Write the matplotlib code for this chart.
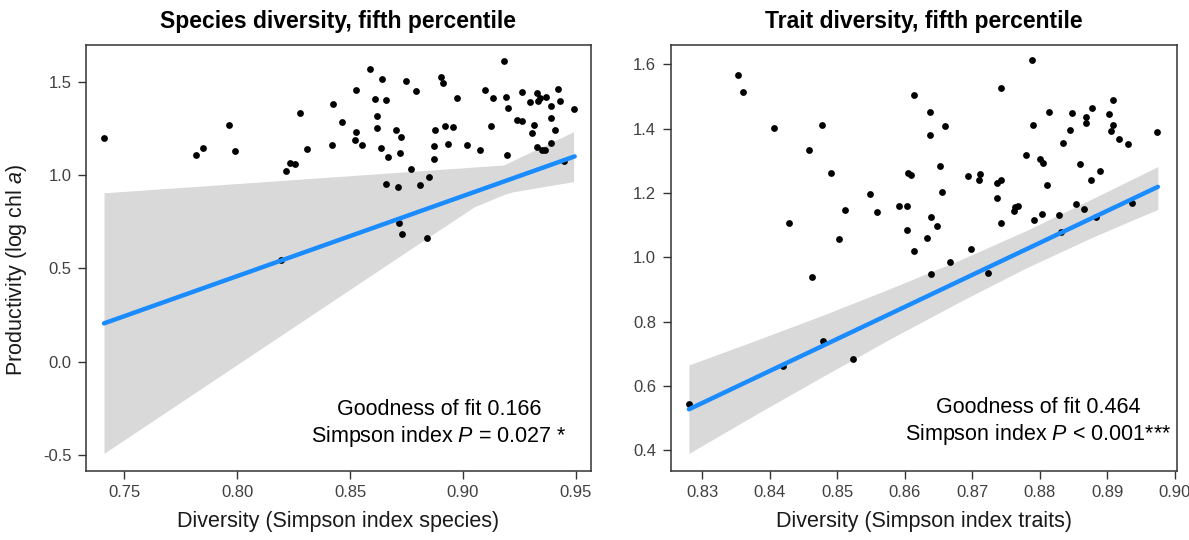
import numpy as np
import matplotlib
matplotlib.use('Agg')
import matplotlib.pyplot as plt

plt.rcParams['font.family'] = ['Liberation Sans', 'DejaVu Sans']
plt.rcParams['mathtext.fontset'] = 'custom'
plt.rcParams['mathtext.rm'] = 'Liberation Sans'
plt.rcParams['mathtext.it'] = 'Liberation Sans:italic'

# ── Species diversity panel ────────────────────────────────────────────────
sp_x = [0.7411, 0.7818, 0.7850, 0.7963, 0.7989, 0.8217, 0.8236, 0.8258, 0.8279,
        0.8308, 0.8419, 0.8424, 0.8464, 0.8523, 0.8527, 0.8527, 0.8551, 0.8588,
        0.8610, 0.8619, 0.8619, 0.8635, 0.8642, 0.8661, 0.8668, 0.8703, 0.8719,
        0.8727, 0.8747, 0.8770, 0.8790, 0.8904, 0.8910, 0.8877, 0.8873, 0.8870,
        0.8920, 0.8934, 0.8954, 0.8973, 0.9016, 0.9077, 0.9096, 0.9124, 0.9133,
        0.9180, 0.9192, 0.9200, 0.9195, 0.9239, 0.9260, 0.9260, 0.9298, 0.9307,
        0.9313, 0.9326, 0.9331, 0.9340, 0.9326, 0.9351, 0.9362, 0.9368, 0.9390,
        0.9391, 0.9406, 0.9391, 0.9422, 0.9430, 0.9490, 0.9446, 0.8657, 0.8713,
        0.8812, 0.8849, 0.8718, 0.8730, 0.8840, 0.8195]
sp_y = [1.198, 1.107, 1.146, 1.266, 1.127, 1.021, 1.064, 1.059, 1.334,
        1.141, 1.161, 1.382, 1.285, 1.186, 1.232, 1.453, 1.159, 1.567,
        1.408, 1.317, 1.250, 1.145, 1.514, 1.400, 1.096, 1.241, 1.116,
        1.202, 1.505, 1.031, 1.448, 1.526, 1.491, 1.241, 1.155, 1.087,
        1.264, 1.164, 1.255, 1.414, 1.159, 1.136, 1.453, 1.261, 1.414,
        1.612, 1.419, 1.357, 1.107, 1.294, 1.289, 1.444, 1.391, 1.226,
        1.269, 1.439, 1.396, 1.411, 1.150, 1.132, 1.132, 1.416, 1.371,
        1.305, 1.241, 1.170, 1.462, 1.395, 1.352, 1.077, 0.953, 0.937,
        0.948, 0.988, 0.741, 0.684, 0.664, 0.545]
sp_fit_x = [0.741, 0.9495]
sp_fit_y = [0.206, 1.100]
sp_band_x = [0.741, 0.880, 0.905, 0.918, 0.922, 0.949]
sp_band_lo = [-0.490, 0.630, 0.830, 0.895, 0.910, 0.965]
sp_band_hi = [0.905, 1.022, 1.043, 1.054, 1.077, 1.232]

# ── Trait diversity panel ──────────────────────────────────────────────────
tr_x = [0.8353, 0.8360, 0.8406, 0.8477, 0.8458, 0.8490, 0.8429, 0.8463, 0.8502,
        0.8511, 0.8548, 0.8559, 0.8592, 0.8603, 0.8603, 0.8604, 0.8609, 0.8613,
        0.8613, 0.8633, 0.8638, 0.8638, 0.8639, 0.8647, 0.8639, 0.8652, 0.8655,
        0.8659, 0.8667, 0.8693, 0.8698, 0.8710, 0.8711, 0.8723, 0.8736, 0.8737,
        0.8742, 0.8742, 0.8742, 0.8762, 0.8764, 0.8767, 0.8780, 0.8789, 0.8790,
        0.8791, 0.8801, 0.8805, 0.8803, 0.8810, 0.8813, 0.8829, 0.8832, 0.8834,
        0.8845, 0.8848, 0.8853, 0.8859, 0.8866, 0.8868, 0.8868, 0.8876, 0.8877,
        0.8883, 0.8889, 0.8902, 0.8906, 0.8908, 0.8909, 0.8917, 0.8931, 0.8937,
        0.8974, 0.8280, 0.8419, 0.8479, 0.8523]
tr_y = [1.566, 1.513, 1.402, 1.412, 1.332, 1.262, 1.106, 0.937, 1.058,
        1.147, 1.198, 1.142, 1.159, 1.159, 1.086, 1.262, 1.257, 1.505,
        1.020, 1.061, 1.452, 1.379, 1.125, 1.097, 0.947, 1.285, 1.203,
        1.407, 0.985, 1.254, 1.027, 1.239, 1.260, 0.952, 1.184, 1.232,
        1.239, 1.525, 1.106, 1.144, 1.156, 1.160, 1.318, 1.612, 1.412,
        1.116, 1.305, 1.293, 1.134, 1.226, 1.452, 1.131, 1.077, 1.356,
        1.396, 1.449, 1.167, 1.290, 1.150, 1.435, 1.416, 1.239, 1.463,
        1.126, 1.267, 1.444, 1.394, 1.412, 1.488, 1.368, 1.351, 1.170,
        1.391, 0.543, 0.663, 0.741, 0.684]
tr_fit_x = [0.828, 0.8975]
tr_fit_y = [0.527, 1.219]
tr_band_x = [0.828, 0.838, 0.848, 0.858, 0.868, 0.878, 0.888, 0.8975]
tr_band_lo = [0.390, 0.512, 0.631, 0.748, 0.860, 0.967, 1.064, 1.149]
tr_band_hi = [0.665, 0.742, 0.821, 0.904, 0.990, 1.083, 1.184, 1.282]

panels = [
    dict(x=sp_x, y=sp_y, fx=sp_fit_x, fy=sp_fit_y,
         bx=sp_band_x, blo=sp_band_lo, bhi=sp_band_hi,
         title='Species diversity, fifth percentile',
         xlabel='Diversity (Simpson index species)',
         xticks=[0.75, 0.80, 0.85, 0.90, 0.95], xfmt='%.2f',
         yticks=[-0.5, 0.0, 0.5, 1.0, 1.5], yfmt='%.1f',
         xlim=(0.7330, 0.9566), ylim=(-0.583, 1.698),
         txt=['Goodness of fit 0.166', r'Simpson index $\mathit{P}$ = 0.027 *'],
         tx=0.699, ty=[0.144, 0.081]),
    dict(x=tr_x, y=tr_y, fx=tr_fit_x, fy=tr_fit_y,
         bx=tr_band_x, blo=tr_band_lo, bhi=tr_band_hi,
         title='Trait diversity, fifth percentile',
         xlabel='Diversity (Simpson index traits)',
         xticks=[0.83, 0.84, 0.85, 0.86, 0.87, 0.88, 0.89, 0.90], xfmt='%.2f',
         yticks=[0.4, 0.6, 0.8, 1.0, 1.2, 1.4, 1.6], yfmt='%.1f',
         xlim=(0.8253, 0.9003), ylim=(0.336, 1.661),
         txt=['Goodness of fit 0.464', r'Simpson index $\mathit{P}$ < 0.001***'],
         tx=0.726, ty=[0.149, 0.086]),
]

fig = plt.figure(figsize=(11.89, 5.4), dpi=100)
rects = [[0.0723, 0.1283, 0.4245, 0.7889],
         [0.5641, 0.1283, 0.4256, 0.7889]]

for i, p in enumerate(panels):
    ax = fig.add_axes(rects[i])
    ax.fill_between(p['bx'], p['blo'], p['bhi'], color='#d9d9d9', lw=0, zorder=1)
    ax.scatter(p['x'], p['y'], s=24, color='black', lw=0, zorder=2)
    ax.plot(p['fx'], p['fy'], color='#1a8cff', lw=3.2, solid_capstyle='round', zorder=3)
    ax.set_xlim(*p['xlim'])
    ax.set_ylim(*p['ylim'])
    ax.set_xticks(p['xticks'])
    ax.set_xticklabels([p['xfmt'] % v for v in p['xticks']])
    ax.set_yticks(p['yticks'])
    ax.set_yticklabels([p['yfmt'] % v for v in p['yticks']])
    ax.tick_params(length=5.5, width=1, color='#333333', labelcolor='#404040',
                   labelsize=12, pad=5)
    for sp in ax.spines.values():
        sp.set_color('#333333')
        sp.set_linewidth(1.1)
    ax.set_title(p['title'], fontsize=16.5, fontweight='bold', pad=12)
    ax.set_xlabel(p['xlabel'], fontsize=15.5, color='#1a1a1a', labelpad=8)
    if i == 0:
        ax.set_ylabel(r'Productivity (log chl $\mathit{a}$)', fontsize=15.5,
                      color='#1a1a1a')
        ax.yaxis.set_label_coords(-0.112, 0.471)
    for t, yy in zip(p['txt'], p['ty']):
        ax.text(p['tx'], yy, t, transform=ax.transAxes, ha='center', va='center',
                fontsize=15.5, color='black')

plt.savefig('out.png', dpi=100)
